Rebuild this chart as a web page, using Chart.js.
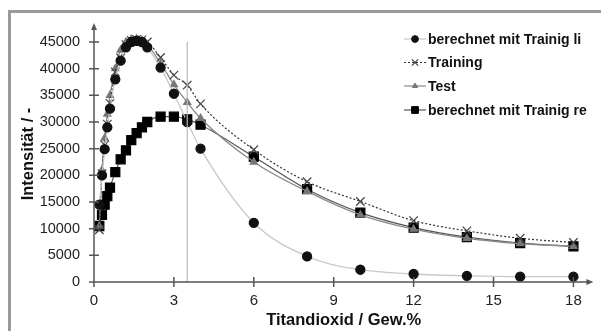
<!DOCTYPE html>
<html>
<head>
<meta charset="utf-8">
<script src="https://cdn.jsdelivr.net/npm/chart.js@4/dist/chart.umd.min.js"></script>
<style>
    html, body { margin: 0; padding: 0; background: #fff; }
    #rahmen {
        position: absolute; left: 8px; top: 10px; width: 600px; height: 330px;
        border-left: 3px solid #9a9a9a; border-top: 3px solid #9a9a9a;
    }
    #wrap { position: absolute; left: 0; top: 0; width: 601px; height: 331px; }
</style>
</head>
<body>
<div id="rahmen"></div>
<div id="wrap"><canvas id="diagramm" width="601" height="331"></canvas></div>
<script>
// Daten
const titandioxid = [0.2, 0.3, 0.4, 0.5, 0.6, 0.8, 1.0, 1.2, 1.4, 1.6, 1.8, 2.0, 2.5, 3.0, 3.5, 4.0, 6, 8, 10, 12, 14, 16, 18];
const berechnetLi = [14500, 20000, 24900, 29000, 32500, 38000, 41500, 44000, 45000, 45200, 45000, 44000, 40200, 35300, 30000, 25000, 11100, 4800, 2300, 1500, 1150, 1000, 1000];
const training    = [9800, 20300, 25700, 29600, 33500, 39400, 42000, 44500, 45300, 45500, 45400, 45000, 42100, 38800, 36900, 33400, 24800, 18800, 15100, 11500, 9600, 8200, 7400];
const test        = [10500, 21000, 27000, 31500, 35000, 40000, 43500, 45000, 45500, 45600, 45300, 44500, 41000, 37000, 33700, 30700, 22500, 17000, 12600, 9900, 8200, 7200, 6700];
const berechnetRe = [10500, 12600, 14500, 16100, 17700, 20600, 23000, 24700, 26600, 27900, 29000, 30000, 31000, 31000, 30500, 29500, 23500, 17400, 13000, 10200, 8400, 7300, 6700];

// senkrechte Hilfslinie
const hilfslinieX = [3.5, 3.5];
const hilfslinieY = [0, 45000];

const xTicks = [0, 3, 6, 9, 12, 15, 18];
const yTicks = [0, 5000, 10000, 15000, 20000, 25000, 30000, 35000, 40000, 45000];

const schrift = '"Liberation Sans", Arial, sans-serif';

function punkte(xs, ys) {
    return xs.map((x, i) => ({ x: x, y: ys[i] }));
}

// Achsen mit Pfeilen und durchgehenden Teilstrichen
const achsenPlugin = {
    id: 'achsen',
    afterDatasetsDraw(chart) {
        const ctx = chart.ctx;
        const xs = chart.scales.x, ys = chart.scales.y;
        const x0 = xs.getPixelForValue(0), y0 = ys.getPixelForValue(0);
        const xEnd = chart.chartArea.right, yEnd = chart.chartArea.top - 3;
        ctx.save();
        ctx.strokeStyle = '#555';
        ctx.fillStyle = '#555';
        ctx.lineWidth = 1.5;
        ctx.beginPath();
        ctx.moveTo(x0, y0); ctx.lineTo(x0, yEnd + 4);
        ctx.moveTo(x0, y0); ctx.lineTo(xEnd - 4, y0);
        yTicks.forEach(v => {
            const p = ys.getPixelForValue(v);
            ctx.moveTo(x0 - 5, p); ctx.lineTo(x0 + 5, p);
        });
        xTicks.forEach(v => {
            const p = xs.getPixelForValue(v);
            ctx.moveTo(p, y0 - 5); ctx.lineTo(p, y0 + 5);
        });
        ctx.stroke();
        // Pfeilspitzen
        ctx.beginPath();
        ctx.moveTo(x0, yEnd); ctx.lineTo(x0 - 3, yEnd + 7); ctx.lineTo(x0 + 3, yEnd + 7); ctx.closePath();
        ctx.moveTo(xEnd, y0); ctx.lineTo(xEnd - 7, y0 - 3); ctx.lineTo(xEnd - 7, y0 + 3); ctx.closePath();
        ctx.fill();
        ctx.restore();
    }
};

// Legende wie im Original (Linie mit Symbol in der Mitte)
const legendePlugin = {
    id: 'legende',
    afterDraw(chart) {
        const ctx = chart.ctx;
        const x1 = 404, x2 = 426, tx = 428;
        const zeilen = [39, 62.5, 86, 110];
        ctx.save();
        chart.data.datasets.forEach(ds => {
            if (!ds.inLegende) return;
            const y = zeilen[ds.inLegende - 1];
            ctx.strokeStyle = ds.borderColor;
            ctx.lineWidth = 1.2;
            ctx.setLineDash(ds.borderDash || []);
            ctx.beginPath(); ctx.moveTo(x1, y); ctx.lineTo(x2, y); ctx.stroke();
            ctx.setLineDash([]);
            ctx.fillStyle = ds.pointBackgroundColor;
            ctx.strokeStyle = ds.pointBorderColor;
            ctx.lineWidth = ds.pointBorderWidth || 1;
            Chart.helpers.drawPoint(ctx, {
                pointStyle: ds.pointStyle,
                radius: ds.pointRadius * 0.75,
                borderWidth: ds.pointBorderWidth || 1,
                rotation: 0
            }, (x1 + x2) / 2, y);
            ctx.fillStyle = '#111';
            ctx.font = 'bold 14px ' + schrift;
            ctx.textBaseline = 'middle';
            ctx.fillText(ds.label, tx, y + 1);
        });
        ctx.restore();
    }
};

function zeichneDiagramm() {
    const ctx = document.getElementById('diagramm');

    const data = {
        datasets: [{
            label: 'Hilfslinie',
            data: punkte(hilfslinieX, hilfslinieY),
            borderColor: '#b8b8b8',
            borderWidth: 1.2,
            pointRadius: 0,
            tension: 0
        }, {
            label: 'berechnet mit Trainig li',
            inLegende: 1,
            data: punkte(titandioxid, berechnetLi),
            borderColor: '#c8c8c8',
            borderWidth: 1.3,
            pointStyle: 'circle',
            pointRadius: 4.5,
            pointBackgroundColor: '#111',
            pointBorderColor: '#111',
            cubicInterpolationMode: 'monotone'
        }, {
            label: 'Training',
            inLegende: 2,
            data: punkte(titandioxid, training),
            borderColor: '#333',
            borderWidth: 1.2,
            borderDash: [2, 2],
            pointStyle: 'crossRot',
            pointRadius: 6,
            pointBorderWidth: 1.2,
            pointBackgroundColor: '#444',
            pointBorderColor: '#444',
            cubicInterpolationMode: 'monotone'
        }, {
            label: 'Test',
            inLegende: 3,
            data: punkte(titandioxid, test),
            borderColor: '#8a8a8a',
            borderWidth: 1.3,
            pointStyle: 'triangle',
            pointRadius: 4,
            pointBackgroundColor: '#777',
            pointBorderColor: '#777',
            cubicInterpolationMode: 'monotone'
        }, {
            label: 'berechnet mit Trainig re',
            inLegende: 4,
            data: punkte(titandioxid, berechnetRe),
            borderColor: '#555',
            borderWidth: 1.2,
            pointStyle: 'rect',
            pointRadius: 6.4,
            pointBackgroundColor: '#000',
            pointBorderColor: '#000',
            cubicInterpolationMode: 'monotone'
        }]
    };

    const options = {
        responsive: false,
        animation: false,
        layout: { padding: { left: 0, top: 26, right: 3, bottom: 0 } },
        plugins: {
            legend: { display: false },
            tooltip: { enabled: false }
        },
        scales: {
            x: {
                type: 'linear',
                min: 0,
                max: 18.75,
                afterFit: s => { s.height = 49; },
                afterBuildTicks: s => { s.ticks = xTicks.map(v => ({ value: v })); },
                grid: { display: false, drawTicks: false },
                border: { display: false },
                ticks: {
                    padding: 10, color: '#222', font: { family: schrift, size: 15 },
                    callback: v => String(v)
                },
                title: {
                    display: true,
                    text: 'Titandioxid / Gew.%',
                    color: '#111',
                    padding: { top: 0, bottom: 1 },
                    font: { family: schrift, size: 16.5, weight: 'bold' }
                }
            },
            y: {
                type: 'linear',
                min: 0,
                max: 48000,
                afterFit: s => { s.width = 94; },
                afterBuildTicks: s => { s.ticks = yTicks.map(v => ({ value: v })); },
                grid: { display: false, drawTicks: false },
                border: { display: false },
                ticks: {
                    padding: 14, color: '#222', font: { family: schrift, size: 14.5 },
                    callback: v => String(v)
                },
                title: {
                    display: true,
                    text: 'Intensität / -',
                    color: '#111',
                    padding: { top: 19, bottom: 0 },
                    font: { family: schrift, size: 16.5, weight: 'bold' }
                }
            }
        }
    };

    new Chart(ctx, {
        type: 'line',
        data: data,
        options: options,
        plugins: [achsenPlugin, legendePlugin]
    });
}

zeichneDiagramm();
</script>
</body>
</html>
